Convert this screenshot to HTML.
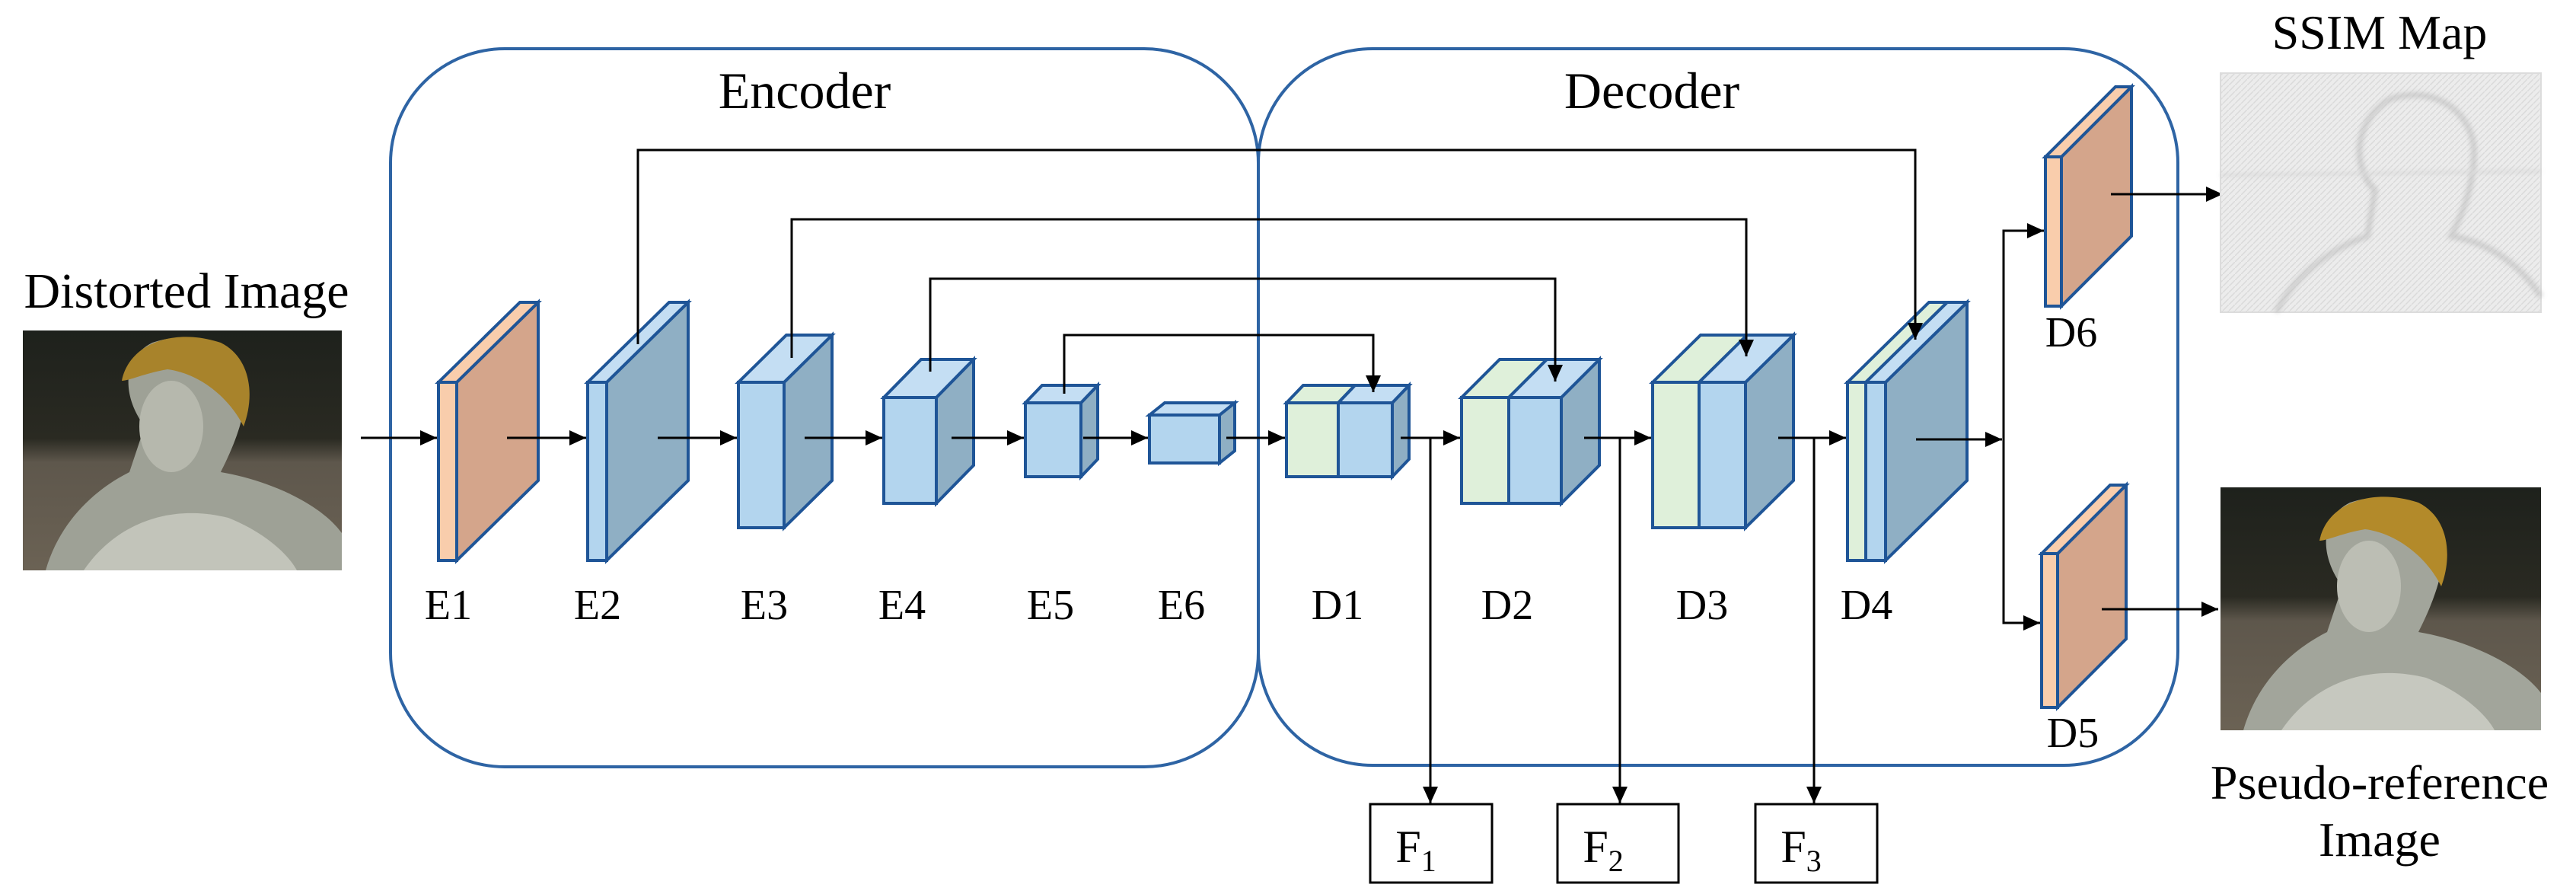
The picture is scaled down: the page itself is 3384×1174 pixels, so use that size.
<!DOCTYPE html>
<html><head><meta charset="utf-8"><style>
html,body{margin:0;padding:0;background:#fff;}
svg{display:block;}
text{font-family:"Liberation Serif",serif;fill:#000;}
</style></head><body>
<svg width="3384" height="1174" viewBox="0 0 3384 1174" xmlns="http://www.w3.org/2000/svg">
<defs>
<marker id="ah" markerUnits="userSpaceOnUse" markerWidth="24" markerHeight="20" refX="22" refY="10" orient="auto">
<path d="M0,0 L22,10 L0,20 z" fill="#000"/>
</marker>
<linearGradient id="bg1" x1="0" y1="0" x2="0" y2="1">
<stop offset="0" stop-color="#1e211c"/><stop offset="0.45" stop-color="#2a2a22"/><stop offset="0.55" stop-color="#5e574c"/><stop offset="1" stop-color="#6b6254"/>
</linearGradient>
<pattern id="hatch" width="8" height="8" patternUnits="userSpaceOnUse">
<rect width="8" height="8" fill="#ececec"/>
<path d="M0,8 L8,0" stroke="#dadada" stroke-width="1.5"/>
</pattern>
<filter id="blur"><feGaussianBlur stdDeviation="3"/></filter>
</defs>

<rect x="513" y="64" width="1140" height="943" rx="150" ry="150" fill="none" stroke="#2E64A4" stroke-width="4"/>
<rect x="1653" y="64" width="1208" height="941" rx="150" ry="150" fill="none" stroke="#2E64A4" stroke-width="4"/>
<text x="1057" y="142" font-size="68" text-anchor="middle">Encoder</text>
<text x="2170" y="142" font-size="68" text-anchor="middle">Decoder</text>

<text x="245" y="404" font-size="66" text-anchor="middle">Distorted Image</text>
<g>
<rect x="30" y="434" width="419" height="315" fill="url(#bg1)"/>
<path d="M60,749 C80,680 130,640 170,620 L190,560 C160,520 160,470 200,450 C260,430 310,460 320,500 C330,540 300,600 290,620 C350,630 420,660 449,700 L449,749 Z" fill="#9ea196"/>
<path d="M160,500 C170,450 230,430 290,450 C330,470 335,520 320,560 C300,520 260,490 220,485 C190,490 170,500 160,500 Z" fill="#a8832b"/>
<ellipse cx="225" cy="560" rx="42" ry="60" fill="#b6b8ad"/>
<path d="M110,749 C150,690 220,660 300,680 C350,700 380,730 390,749 Z" fill="#c2c4ba"/>
</g>

<g stroke="#000" stroke-width="3" fill="none">
<line x1="474" y1="575" x2="574" y2="575" marker-end="url(#ah)"/>
<polyline points="2685,303 2632,303 2632,818 2680,818"/>
<line x1="2632" y1="303" x2="2685" y2="303" marker-end="url(#ah)"/>
<line x1="2632" y1="818" x2="2680" y2="818" marker-end="url(#ah)"/>
<line x1="1879" y1="575" x2="1879" y2="1055" marker-end="url(#ah)"/>
<line x1="2128" y1="575" x2="2128" y2="1055" marker-end="url(#ah)"/>
<line x1="2383" y1="575" x2="2383" y2="1055" marker-end="url(#ah)"/>
</g>

<g stroke="#1F5597" stroke-width="4" stroke-linejoin="miter">
<polygon points="600,502 707,397 707,631 600,736" fill="#D4A58B"/>
<polygon points="576,502 600,502 707,397 683,397" fill="#F9CDAC"/>
<rect x="576" y="502" width="24" height="234" fill="#F9CDAC"/>
<polygon points="797,502 904,397 904,631 797,736" fill="#8FAFC4"/>
<polygon points="772,502 797,502 904,397 879,397" fill="#C4DEF3"/>
<rect x="772" y="502" width="25" height="234" fill="#B3D5EE"/>
<polygon points="1030,502 1093,440 1093,631 1030,693" fill="#8FAFC4"/>
<polygon points="970,502 1030,502 1093,440 1033,440" fill="#C4DEF3"/>
<rect x="970" y="502" width="60" height="191" fill="#B3D5EE"/>
<polygon points="1230,522 1279,472 1279,611 1230,661" fill="#8FAFC4"/>
<polygon points="1161,522 1230,522 1279,472 1210,472" fill="#C4DEF3"/>
<rect x="1161" y="522" width="69" height="139" fill="#B3D5EE"/>
<polygon points="1420,529 1442,506 1442,603 1420,626" fill="#8FAFC4"/>
<polygon points="1347,529 1420,529 1442,506 1369,506" fill="#C4DEF3"/>
<rect x="1347" y="529" width="73" height="97" fill="#B3D5EE"/>
<polygon points="1602,545 1622,529 1622,592 1602,608" fill="#8FAFC4"/>
<polygon points="1510,545 1602,545 1622,529 1530,529" fill="#C4DEF3"/>
<rect x="1510" y="545" width="92" height="63" fill="#B3D5EE"/>
<polygon points="1829,529 1851,506 1851,603 1829,626" fill="#8FAFC4"/>
<polygon points="1690,529 1758,529 1780,506 1712,506" fill="#DFF0DA"/>
<polygon points="1758,529 1829,529 1851,506 1780,506" fill="#C4DEF3"/>
<rect x="1690" y="529" width="68" height="97" fill="#DFF0DA"/>
<rect x="1758" y="529" width="71" height="97" fill="#B3D5EE"/>
<polygon points="2051,522 2101,472 2101,611 2051,661" fill="#8FAFC4"/>
<polygon points="1920,522 1982,522 2032,472 1970,472" fill="#DFF0DA"/>
<polygon points="1982,522 2051,522 2101,472 2032,472" fill="#C4DEF3"/>
<rect x="1920" y="522" width="62" height="139" fill="#DFF0DA"/>
<rect x="1982" y="522" width="69" height="139" fill="#B3D5EE"/>
<polygon points="2293,502 2356,440 2356,631 2293,693" fill="#8FAFC4"/>
<polygon points="2171,502 2232,502 2295,440 2234,440" fill="#DFF0DA"/>
<polygon points="2232,502 2293,502 2356,440 2295,440" fill="#C4DEF3"/>
<rect x="2171" y="502" width="61" height="191" fill="#DFF0DA"/>
<rect x="2232" y="502" width="61" height="191" fill="#B3D5EE"/>
<polygon points="2477,502 2584,397 2584,631 2477,736" fill="#8FAFC4"/>
<polygon points="2427,502 2451,502 2558,397 2534,397" fill="#DFF0DA"/>
<polygon points="2451,502 2477,502 2584,397 2558,397" fill="#C4DEF3"/>
<rect x="2427" y="502" width="24" height="234" fill="#DFF0DA"/>
<rect x="2451" y="502" width="26" height="234" fill="#B3D5EE"/>
<polygon points="2708,206 2800,114 2800,310 2708,402" fill="#D4A58B"/>
<polygon points="2687,206 2708,206 2800,114 2779,114" fill="#F9CDAC"/>
<rect x="2687" y="206" width="21" height="196" fill="#F9CDAC"/>
<polygon points="2703,727 2793,637 2793,839 2703,929" fill="#D4A58B"/>
<polygon points="2682,727 2703,727 2793,637 2772,637" fill="#F9CDAC"/>
<rect x="2682" y="727" width="21" height="202" fill="#F9CDAC"/>
</g>

<g stroke="#000" stroke-width="3" fill="none">
<polyline points="838,452 838,197 2516,197 2516,446" marker-end="url(#ah)"/>
<polyline points="1040,470 1040,288 2294,288 2294,468" marker-end="url(#ah)"/>
<polyline points="1222,488 1222,366 2043,366 2043,501" marker-end="url(#ah)"/>
<polyline points="1398,517 1398,440 1804,440 1804,515" marker-end="url(#ah)"/>
<line x1="666" y1="575" x2="770" y2="575" marker-end="url(#ah)"/>
<line x1="864" y1="575" x2="968" y2="575" marker-end="url(#ah)"/>
<line x1="1057" y1="575" x2="1159" y2="575" marker-end="url(#ah)"/>
<line x1="1250" y1="575" x2="1345" y2="575" marker-end="url(#ah)"/>
<line x1="1423" y1="575" x2="1508" y2="575" marker-end="url(#ah)"/>
<line x1="1611" y1="575" x2="1688" y2="575" marker-end="url(#ah)"/>
<line x1="1840" y1="575" x2="1918" y2="575" marker-end="url(#ah)"/>
<line x1="2081" y1="575" x2="2169" y2="575" marker-end="url(#ah)"/>
<line x1="2336" y1="575" x2="2425" y2="575" marker-end="url(#ah)"/>
<line x1="2517" y1="577" x2="2630" y2="577" marker-end="url(#ah)"/>
<line x1="2773" y1="255" x2="2920" y2="255" marker-end="url(#ah)"/>
<line x1="2761" y1="800" x2="2914" y2="800" marker-end="url(#ah)"/>
</g>

<g font-size="56" text-anchor="middle">
<text x="589" y="813">E1</text>
<text x="785" y="813">E2</text>
<text x="1004" y="813">E3</text>
<text x="1185" y="813">E4</text>
<text x="1380" y="813">E5</text>
<text x="1552" y="813">E6</text>
<text x="1757" y="813">D1</text>
<text x="1980" y="813">D2</text>
<text x="2236" y="813">D3</text>
<text x="2452" y="813">D4</text>
<text x="2721" y="455">D6</text>
<text x="2723" y="981">D5</text>
</g>

<g fill="none" stroke="#000" stroke-width="3">
<rect x="1800" y="1056" width="160" height="103"/>
<rect x="2046" y="1056" width="159" height="103"/>
<rect x="2306" y="1056" width="160" height="103"/>
</g>
<g font-size="60">
<text x="1860" y="1132" text-anchor="middle">F<tspan font-size="40" dy="12">1</tspan></text>
<text x="2106" y="1132" text-anchor="middle">F<tspan font-size="40" dy="12">2</tspan></text>
<text x="2366" y="1132" text-anchor="middle">F<tspan font-size="40" dy="12">3</tspan></text>
</g>

<text x="3126" y="64" font-size="64" text-anchor="middle">SSIM Map</text>
<rect x="2917" y="96" width="421" height="314" fill="url(#hatch)" stroke="#dcdcdc" stroke-width="2"/>
<g filter="url(#blur)" opacity="0.5">
<path d="M2990,410 C3020,350 3080,320 3110,310 L3120,250 C3090,220 3090,160 3140,130 C3200,110 3250,150 3250,200 C3250,250 3230,290 3220,310 C3280,320 3320,360 3338,390" fill="none" stroke="#b5b5b5" stroke-width="8"/>
<path d="M2917,230 L3338,225" stroke="#cccccc" stroke-width="4"/>
</g>

<g>
<rect x="2917" y="640" width="421" height="319" fill="url(#bg1)"/>
<path d="M2947,959 C2967,890 3017,850 3057,830 L3077,770 C3047,730 3047,680 3087,660 C3147,640 3197,670 3207,710 C3217,750 3187,810 3177,830 C3237,840 3307,870 3338,910 L3338,959 Z" fill="#a2a59b"/>
<path d="M3047,710 C3057,660 3117,640 3177,660 C3217,680 3222,730 3207,770 C3187,730 3147,700 3107,695 C3077,700 3057,710 3047,710 Z" fill="#b38a2a"/>
<ellipse cx="3112" cy="770" rx="42" ry="60" fill="#bcbeb4"/>
<path d="M2997,959 C3037,900 3107,870 3187,890 C3237,910 3267,940 3277,959 Z" fill="#c6c8bf"/>
</g>
<text x="3126" y="1049" font-size="64" text-anchor="middle">Pseudo-reference</text>
<text x="3126" y="1124" font-size="64" text-anchor="middle">Image</text>
</svg>
</body></html>
